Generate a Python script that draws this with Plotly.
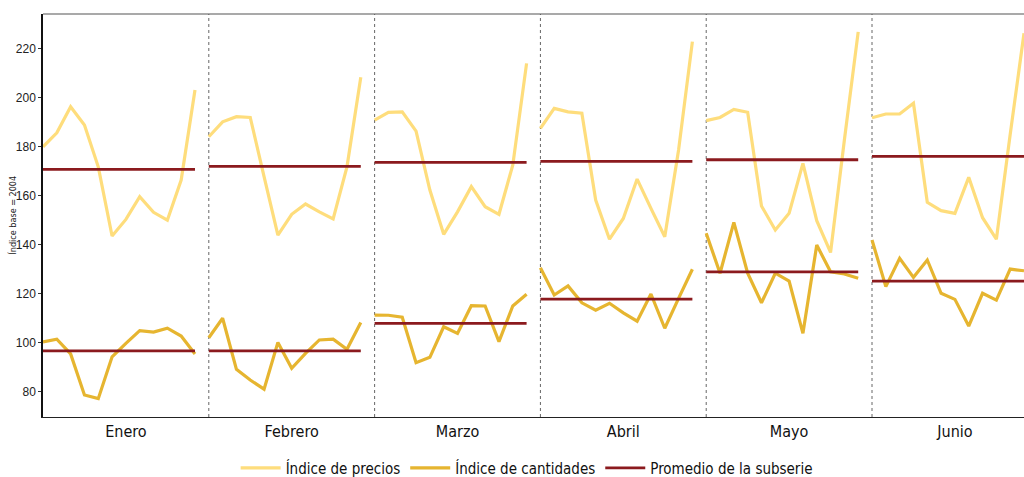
import numpy as np
import plotly.graph_objects as go

# Meses mostrados (cada panel contiene 12 observaciones anuales)
meses = ["Enero", "Febrero", "Marzo", "Abril", "Mayo", "Junio"]

precios_enero = [180.0, 185.7, 196.4, 188.9, 171.8, 143.5, 150.3, 159.6, 153.2, 150.0, 166.4, 203.2]
precios_febrero = [184.1, 190.2, 192.3, 192.0, 167.8, 143.9, 152.4, 156.6, 153.4, 150.5, 171.8, 208.4]
precios_marzo = [190.9, 194.1, 194.3, 186.4, 162.3, 144.2, 153.4, 163.7, 155.5, 152.4, 172.5, 214.1]
precios_abril = [187.5, 195.7, 194.3, 193.7, 158.2, 142.2, 150.7, 166.8, 154.8, 143.2, 178.7, 223.0]
precios_mayo = [190.7, 192.0, 195.3, 194.1, 155.8, 146.0, 152.8, 173.2, 149.8, 136.8, 182.8, 227.0]
precios_junio = [191.9, 193.4, 193.4, 197.8, 157.3, 153.9, 152.8, 167.5, 151.0, 142.2, 185.0, 226.4]

cantidades_enero = [100.2, 101.3, 95.3, 78.5, 77.0, 94.1, 99.6, 104.8, 104.2, 105.8, 102.6, 95.3]
cantidades_febrero = [101.9, 109.9, 89.0, 84.6, 80.9, 100.0, 89.4, 95.5, 101.0, 101.3, 97.2, 108.1]
cantidades_marzo = [111.2, 111.1, 110.3, 91.7, 93.9, 106.4, 103.7, 115.0, 114.9, 100.3, 114.9, 119.7]
cantidades_abril = [130.5, 119.4, 123.1, 116.2, 113.2, 116.0, 112.1, 108.7, 119.8, 105.8, 118.0, 129.9]
cantidades_mayo = [144.6, 128.3, 149.1, 128.3, 116.2, 128.3, 125.1, 103.7, 139.8, 128.9, 128.0, 126.2]
cantidades_junio = [141.9, 122.8, 134.4, 126.6, 133.7, 120.1, 117.6, 106.7, 120.1, 117.3, 130.0, 129.3]

precios = [precios_enero, precios_febrero, precios_marzo,
           precios_abril, precios_mayo, precios_junio]
cantidades = [cantidades_enero, cantidades_febrero, cantidades_marzo,
              cantidades_abril, cantidades_mayo, cantidades_junio]

y_ticks = [80, 100, 120, 140, 160, 180, 200, 220]

COL_PRECIOS = "#FEDD7C"
COL_CANTIDADES = "#E6B530"
COL_PROMEDIO = "#8B1A1E"
FONT_NARROW = "Liberation Sans Narrow, DejaVu Sans Condensed, Liberation Sans, Arial, sans-serif"

n_anios = len(precios[0])
paso = n_anios  # ancho de cada panel mensual en unidades del eje x


def serie_panel(datos):
    """Concatena las subseries mensuales separándolas con huecos."""
    xs, ys = [], []
    for m, valores in enumerate(datos):
        xs += [m * paso + i for i in range(len(valores))] + [None]
        ys += list(valores) + [None]
    return xs, ys


def promedio_panel(datos):
    """Línea horizontal con la media de cada subserie."""
    xs, ys = [], []
    for m, valores in enumerate(datos):
        media = float(np.mean(valores))
        xs += [m * paso, m * paso + len(valores) - 1, None]
        ys += [media, media, None]
    return xs, ys


fig = go.Figure()

xp, yp = serie_panel(precios)
xc, yc = serie_panel(cantidades)
xm1, ym1 = promedio_panel(precios)
xm2, ym2 = promedio_panel(cantidades)

fig.add_trace(go.Scatter(x=xp, y=yp, mode="lines", name="Índice de precios",
                         line=dict(color=COL_PRECIOS, width=3.2)))
fig.add_trace(go.Scatter(x=xc, y=yc, mode="lines", name="Índice de cantidades",
                         line=dict(color=COL_CANTIDADES, width=3.2)))
fig.add_trace(go.Scatter(x=xm1, y=ym1, mode="lines", name="Promedio de la subserie",
                         line=dict(color=COL_PROMEDIO, width=2.8)))
fig.add_trace(go.Scatter(x=xm2, y=ym2, mode="lines", showlegend=False,
                         line=dict(color=COL_PROMEDIO, width=2.8)))

# Separadores punteados entre meses
for m in range(1, len(meses)):
    fig.add_shape(type="line", xref="x", yref="paper",
                  x0=m * paso, x1=m * paso, y0=0, y1=1,
                  line=dict(color="#666666", width=1, dash="dot"), layer="below")

# Borde superior del marco
fig.add_shape(type="line", xref="paper", yref="paper", x0=0, x1=1, y0=1, y1=1,
              line=dict(color="#555555", width=1.2))

# Título del eje vertical
fig.add_annotation(text="Índice base = 2004", xref="paper", yref="paper",
                   x=-0.0315, y=0.5, xanchor="center", yanchor="middle",
                   textangle=-90, showarrow=False,
                   font=dict(family=FONT_NARROW, size=9, color="#222222"))

fig.update_layout(
    width=1024, height=477,
    margin=dict(l=43, r=0, t=14, b=60, autoexpand=False),
    paper_bgcolor="white", plot_bgcolor="white",
    showlegend=True,
    legend=dict(orientation="h", x=0.493, xanchor="center", y=-0.127, yanchor="middle",
                font=dict(family=FONT_NARROW, size=15, color="#111111"),
                itemwidth=40, tracegroupgap=0, bgcolor="rgba(0,0,0,0)"),
)

fig.update_xaxes(
    range=[0, (len(meses) - 1) * paso + n_anios - 1],
    tickmode="array",
    tickvals=[m * paso + paso / 2 for m in range(len(meses))],
    ticktext=meses,
    ticks="", showgrid=False, zeroline=False,
    showline=True, linecolor="#222222", linewidth=1.2,
    tickfont=dict(family=FONT_NARROW, size=16, color="#111111"),
)

fig.update_yaxes(
    range=[69.5, 234.3],
    tickmode="array", tickvals=y_ticks,
    ticks="outside", ticklen=3, tickcolor="#333333",
    showgrid=False, zeroline=False,
    showline=True, linecolor="#111111", linewidth=1.5,
    tickfont=dict(family="Liberation Sans, Arial, sans-serif", size=12, color="#222222"),
)

fig.write_html("out.html")
